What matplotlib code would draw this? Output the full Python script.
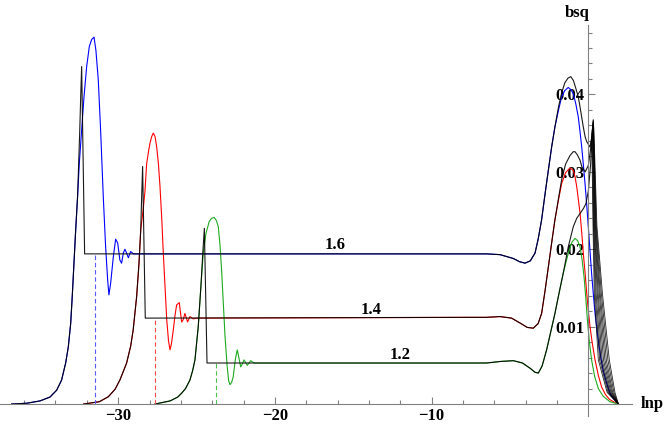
import numpy as np
import matplotlib.pyplot as plt

# --- data (lnp, bsq) ---
# left parts: rise, peak, ringing, plateau start
blue_left_x = [-36.8, -35.84, -34.99, -34.35, -33.92, -33.61, -33.35, -33.18, -33.03, -32.93, -32.82,
               -32.71, -32.59, -32.48, -32.33, -32.18, -32.01, -31.84, -31.69, -31.54, -31.42, -31.27,
               -31.12, -30.95, -30.8, -30.67, -30.59, -30.48, -30.31, -30.16, -30.03, -29.89, -29.78,
               -29.67, -29.57, -29.46, -29.35, -29.2, -29.03]
blue_left_y = [0, 0.0001, 0.0004, 0.0009, 0.0018, 0.0031, 0.0053, 0.0074, 0.0104, 0.0139, 0.0182,
               0.0225, 0.0268, 0.0311, 0.0354, 0.0397, 0.0436, 0.0462, 0.0471, 0.0474, 0.0457, 0.0419,
               0.0354, 0.0268, 0.0203, 0.016, 0.0141, 0.0156, 0.019, 0.0213, 0.0208, 0.0186, 0.0182,
               0.0195, 0.02, 0.0195, 0.0189, 0.0197, 0.0194]
black16_left_x = [-36.8, -35.84, -34.99, -34.35, -33.92, -33.61, -33.35, -33.18, -33.03, -32.93, -32.82,
                  -32.71, -32.59, -32.52, -32.45, -32.39, -32.33, -32.14]
black16_left_y = [0, 0.0001, 0.0004, 0.0009, 0.0018, 0.0031, 0.0053, 0.0074, 0.0104, 0.0139, 0.0182,
                  0.0225, 0.0268, 0.0311, 0.0354, 0.0397, 0.0436, 0.0194]

red_left_x = [-32.2, -31.2, -30.63, -30.2, -29.89, -29.46, -29.2, -29.04, -28.82, -28.67, -28.56,
              -28.4, -28.29, -28.18, -28.05, -27.97, -27.87, -27.76, -27.65, -27.54, -27.43, -27.33,
              -27.22, -27.12, -27.0, -26.9, -26.79, -26.69, -26.6, -26.48, -26.37, -26.27, -26.1,
              -25.95, -25.85, -25.74, -25.57, -25.42, -25.2, -25.0]
red_left_y = [0, 0.0003, 0.00094, 0.0019, 0.0031, 0.0053, 0.0075, 0.0096, 0.0139, 0.0182, 0.0225,
              0.0252, 0.0275, 0.0311, 0.0328, 0.0337, 0.0345, 0.035, 0.0346, 0.0332, 0.031, 0.0281,
              0.024, 0.0195, 0.0148, 0.0109, 0.0082, 0.007, 0.0078, 0.0096, 0.0115, 0.0128, 0.0131,
              0.0106, 0.0109, 0.0117, 0.0106, 0.0113, 0.011, 0.0111]
black14_left_x = [-32.2, -31.2, -30.63, -30.2, -29.89, -29.46, -29.2, -29.04, -28.82, -28.67, -28.56,
                  -28.5, -28.44, -28.27]
black14_left_y = [0, 0.0003, 0.00094, 0.0019, 0.0031, 0.0053, 0.0075, 0.0096, 0.0139, 0.0182, 0.0225,
                  0.0268, 0.0307, 0.0111]

green_left_x = [-27.65, -26.69, -26.2, -25.95, -25.7, -25.42, -25.25, -25.1, -24.89, -24.72, -24.57,
                -24.4, -24.19, -24.03, -23.87, -23.73, -23.61, -23.5, -23.4, -23.29, -23.18, -23.05,
                -22.95, -22.87, -22.76, -22.66, -22.52, -22.4, -22.29, -22.18, -22.07, -21.97, -21.76,
                -21.54, -21.33]
green_left_y = [0, 0.0004, 0.0009, 0.0014, 0.002, 0.0031, 0.0043, 0.0057, 0.01, 0.0152, 0.0195,
                0.022, 0.0236, 0.024, 0.0241, 0.0237, 0.0229, 0.0205, 0.0173, 0.013, 0.0087, 0.005,
                0.003, 0.0025, 0.0028, 0.0035, 0.0058, 0.007, 0.0059, 0.0048, 0.0052, 0.0057, 0.005,
                0.0056, 0.0053]
black12_left_x = [-27.65, -26.69, -26.2, -25.95, -25.7, -25.42, -25.25, -25.1, -24.89, -24.72, -24.6,
                  -24.5, -24.33]
black12_left_y = [0, 0.0004, 0.0009, 0.0014, 0.002, 0.0031, 0.0043, 0.0057, 0.01, 0.0152, 0.0195,
                  0.0227, 0.0053]

# right parts: plateau end, dip, big bump, fall to zero
blue_right_x = [-7.5, -6.5, -5.63, -4.78, -4.4, -4.04, -3.7, -3.4, -3.2, -2.98, -2.77, -2.55, -2.34,
                -2.13, -1.9, -1.7, -1.5, -1.28, -1.1, -0.96, -0.8, -0.64, -0.53, -0.42, -0.32, -0.21,
                -0.1, 0.0, 0.1, 0.21, 0.32, 0.43, 0.6, 0.75, 0.95, 1.17, 1.38, 1.6, 1.92]
blue_right_y = [0.0194, 0.0194, 0.0193, 0.0188, 0.0184, 0.0182, 0.0185, 0.0195, 0.0213, 0.0238, 0.027,
                0.0302, 0.0332, 0.0358, 0.038, 0.0397, 0.0405, 0.0409, 0.0406, 0.0401, 0.0388, 0.0371,
                0.0352, 0.0332, 0.031, 0.0285, 0.0257, 0.0229, 0.02, 0.0169, 0.0142, 0.0117, 0.0088,
                0.0066, 0.0043, 0.0027, 0.0014, 0.0007, 0]
black16_right_x = [-7.5, -6.5, -5.63, -4.78, -4.4, -4.04, -3.7, -3.4, -3.2, -2.98, -2.77, -2.55, -2.34,
                   -2.13, -1.9, -1.7, -1.5, -1.3, -1.12, -0.95, -0.8, -0.64, -0.48, -0.32, -0.2, -0.1,
                   0.11, 0.22, 0.32]
black16_right_y = [0.0194, 0.0194, 0.0193, 0.0188, 0.0184, 0.0182, 0.0185, 0.0195, 0.0213, 0.0238, 0.027,
                   0.0302, 0.0332, 0.0358, 0.0384, 0.0402, 0.0415, 0.0421, 0.0423, 0.0418, 0.0408, 0.0397,
                   0.0378, 0.0358, 0.0345, 0.0339, 0.0332, 0.0345, 0.0367]

red_right_x = [-7.5, -6.5, -5.63, -4.9, -4.3, -3.9, -3.51, -3.2, -2.98, -2.77, -2.55, -2.34, -2.13,
               -1.9, -1.7, -1.45, -1.17, -0.96, -0.85, -0.74, -0.64, -0.53, -0.42, -0.32, -0.2, -0.1,
               0.0, 0.11, 0.25, 0.43, 0.64, 0.85, 1.1, 1.35, 1.6, 1.92]
red_right_y = [0.0112, 0.0112, 0.0113, 0.0111, 0.0104, 0.0099, 0.0098, 0.0104, 0.0117, 0.0145, 0.0177,
               0.0208, 0.0238, 0.0264, 0.0285, 0.0299, 0.0305, 0.0302, 0.0294, 0.0281, 0.0265, 0.0247,
               0.0222, 0.0195, 0.0168, 0.0143, 0.0121, 0.01, 0.0079, 0.0057, 0.0037, 0.0022, 0.0012,
               0.0006, 0.0003, 0]
black14_right_x = [-7.5, -6.5, -5.63, -4.9, -4.3, -3.9, -3.51, -3.2, -2.98, -2.77, -2.55, -2.34, -2.13,
                   -1.9, -1.7, -1.45, -1.17, -0.96, -0.85, -0.7, -0.53, -0.4, -0.2, 0.0, 0.15, 0.3]
black14_right_y = [0.0112, 0.0112, 0.0113, 0.0111, 0.0104, 0.0099, 0.0098, 0.0104, 0.0117, 0.0145, 0.0177,
                   0.0208, 0.0238, 0.0266, 0.029, 0.031, 0.0321, 0.0326, 0.0326, 0.0322, 0.0315, 0.0306,
                   0.03, 0.0308, 0.033, 0.0362]

green_right_x = [-7.5, -6.5, -5.6, -4.78, -4.2, -3.7, -3.4, -3.19, -2.95, -2.66, -2.4, -2.13, -1.87,
                 -1.6, -1.3, -1.05, -0.85, -0.68, -0.53, -0.4, -0.27, -0.16, -0.06, 0.07, 0.21, 0.4,
                 0.64, 0.95, 1.38, 1.92]
green_right_y = [0.0053, 0.0053, 0.0055, 0.0056, 0.0053, 0.0046, 0.0041, 0.004, 0.0049, 0.007, 0.0093,
                 0.0117, 0.0143, 0.0169, 0.0193, 0.0209, 0.0214, 0.0211, 0.0203, 0.0187, 0.0164, 0.0137,
                 0.0109, 0.008, 0.0057, 0.0036, 0.002, 0.001, 0.0003, 0]
black12_right_x = [-7.5, -6.5, -5.6, -4.78, -4.2, -3.7, -3.4, -3.19, -2.95, -2.66, -2.4, -2.13, -1.87,
                   -1.6, -1.28, -0.96, -0.74, -0.53, -0.3, -0.15, 0.0, 0.15, 0.28]
black12_right_y = [0.0053, 0.0053, 0.0055, 0.0056, 0.0053, 0.0046, 0.0041, 0.004, 0.0049, 0.007, 0.0093,
                   0.0117, 0.0143, 0.0169, 0.0203, 0.0229, 0.024, 0.0246, 0.0253, 0.0259, 0.0275, 0.031,
                   0.036]

# bundle of black lines falling from the spike near lnp = 0
fan_top_x = [0.22, 0.25, 0.27, 0.29, 0.3, 0.31, 0.32, 0.33, 0.35]
fan_top_y = [0.0345, 0.035, 0.0355, 0.036, 0.0364, 0.0366, 0.0365, 0.0362, 0.0358]
fan_x_23 = [0.3, 0.33, 0.36, 0.39, 0.42, 0.45, 0.48, 0.51, 0.55]
fan_x_14 = [0.38, 0.44, 0.5, 0.57, 0.63, 0.7, 0.76, 0.83, 0.9]
fan_x_06 = [0.64, 0.72, 0.8, 0.88, 0.97, 1.06, 1.15, 1.25, 1.34]
fan_x_015 = [1.2, 1.26, 1.32, 1.38, 1.44, 1.5, 1.56, 1.63, 1.7]
fan_y_levels = [0.023, 0.0143, 0.0057, 0.0015, 0]
fan_end_x = 1.92

# dashed markers: position and plateau level
dash_x = [-31.48, -27.63, -23.78]
dash_top = [0.0194, 0.0111, 0.0053]
dash_colors = ['#5b5bff', '#ff4a4a', '#4cc04c']

levels = ['1.6', '1.4', '1.2']
level_x = [-16.15, -13.85, -12.0]
level_y = [0.0205, 0.0121, 0.0063]

serif = 'Liberation Serif'

fig = plt.figure(figsize=(6.64, 4.24), dpi=100)
ax = fig.add_axes([0, 0, 1, 1])
ax.set_xlim(-37.54, 4.83)
ax.set_ylim(-0.00258, 0.0522)

lw = 0.8
ax.plot(blue_left_x + blue_right_x, blue_left_y + blue_right_y, color='#0000ff', lw=lw)
ax.plot(red_left_x + red_right_x, red_left_y + red_right_y, color='#ff0000', lw=lw)
ax.plot(green_left_x + green_right_x, green_left_y + green_right_y, color='#1faa1f', lw=lw)

for fx, fy, a, b, c, d in zip(fan_top_x, fan_top_y, fan_x_23, fan_x_14, fan_x_06, fan_x_015):
    ax.plot([fx, a, b, c, d, fan_end_x], [fy] + fan_y_levels, color='black', lw=0.6, alpha=0.85)

ax.plot(black16_left_x + black16_right_x, black16_left_y + black16_right_y, color='black', lw=lw, alpha=0.9)
ax.plot(black14_left_x + black14_right_x, black14_left_y + black14_right_y, color='black', lw=lw, alpha=0.9)
ax.plot(black12_left_x + black12_right_x, black12_left_y + black12_right_y, color='black', lw=lw, alpha=0.9)

for dx, dt, dc in zip(dash_x, dash_top, dash_colors):
    ax.plot([dx, dx], [0, dt], color=dc, lw=lw, dashes=(4, 2.5))

for lab, lx, ly in zip(levels, level_x, level_y):
    ax.text(lx, ly, lab, fontfamily=serif, fontweight='bold', fontsize=12,
            ha='center', va='center')

# Mathematica-style axes through the origin
for s in ['top', 'right']:
    ax.spines[s].set_visible(False)
ax.spines['bottom'].set_position(('data', 0))
ax.spines['left'].set_position(('data', 0))
ax.spines['bottom'].set_bounds(-37.54, 2.77)
ax.spines['left'].set_bounds(-0.0015, 0.049)
for s in ['bottom', 'left']:
    ax.spines[s].set_color('#808080')
    ax.spines[s].set_linewidth(0.8)

ax.set_xticks([-30, -20, -10])
ax.set_xticklabels(['\u221230', '\u221220', '\u221210'])
ax.set_xticks([-36, -34, -32, -28, -26, -24, -22, -18, -16, -14, -12, -8, -6, -4, -2], minor=True)
ax.set_yticks([0.01, 0.02, 0.03, 0.04])
ax.set_yticklabels(['0.01', '0.02', '0.03', '0.04'])
ax.set_yticks([0.002, 0.004, 0.006, 0.008, 0.012, 0.014, 0.016, 0.018, 0.022, 0.024, 0.026,
               0.028, 0.032, 0.034, 0.036, 0.038, 0.042, 0.044, 0.046, 0.048], minor=True)
ax.tick_params(which='both', direction='in', color='#808080', width=0.8)
ax.tick_params(which='major', length=5, pad=3)
ax.tick_params(which='minor', length=3)
for t in ax.get_xticklabels() + ax.get_yticklabels():
    t.set_fontfamily(serif)
    t.set_fontweight('bold')
    t.set_fontsize(12)

ax.text(3.35, 0.0, 'lnp', fontfamily=serif, fontweight='bold', fontsize=12, ha='left', va='center')
ax.text(-0.7, 0.0505, 'bsq', fontfamily=serif, fontweight='bold', fontsize=12, ha='center', va='center')

fig.savefig('out.png', dpi=100)
